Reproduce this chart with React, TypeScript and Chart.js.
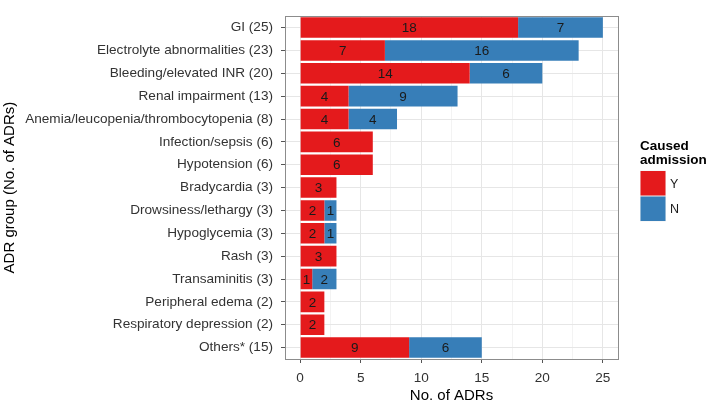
import React, { useEffect, useRef } from "react";
import { Chart, registerables } from "chart.js";

Chart.register(...registerables);

const categories = [
  "GI (25)",
  "Electrolyte abnormalities (23)",
  "Bleeding/elevated INR (20)",
  "Renal impairment (13)",
  "Anemia/leucopenia/thrombocytopenia (8)",
  "Infection/sepsis (6)",
  "Hypotension (6)",
  "Bradycardia (3)",
  "Drowsiness/lethargy (3)",
  "Hypoglycemia (3)",
  "Rash (3)",
  "Transaminitis (3)",
  "Peripheral edema (2)",
  "Respiratory depression (2)",
  "Others* (15)",
];
const causedY = [18, 7, 14, 4, 4, 6, 6, 3, 2, 2, 3, 1, 2, 2, 9];
const causedN = [7, 16, 6, 9, 4, 0, 0, 0, 1, 1, 0, 2, 0, 0, 6];
const xTicks = [0, 2.5, 5, 7.5, 10, 12.5, 15, 17.5, 20, 22.5, 25];
const legendTitle = ["Caused", "admission"];
const seriesNames = ["Y", "N"];
const colors = ["#E41A1C", "#377EB8"];

const FONT = "'Liberation Sans', Arial, sans-serif";

export default function App() {
  const ref = useRef<HTMLCanvasElement | null>(null);
  useEffect(() => {
    document.body.style.margin = "0";
    const ctx = ref.current!.getContext("2d")!;
    const overlay = {
      id: "overlay",
      afterDatasetsDraw(chart: any) {
        const c = chart.ctx;
        const area = chart.chartArea;
        // value labels
        c.save();
        c.font = `13.5px ${FONT}`;
        c.fillStyle = "#1a1a1a";
        c.textAlign = "center";
        c.textBaseline = "middle";
        chart.data.datasets.forEach((ds: any, di: number) => {
          const meta = chart.getDatasetMeta(di);
          meta.data.forEach((bar: any, i: number) => {
            const v = ds.data[i];
            if (!v) return;
            const cx = (bar.x + bar.base) / 2;
            c.fillText(String(v), cx, bar.y + 1);
          });
        });
        c.restore();
        // panel border
        c.save();
        c.strokeStyle = "#8c8c8c";
        c.lineWidth = 1;
        c.strokeRect(
          Math.round(area.left) + 0.5,
          Math.round(area.top) + 0.5,
          Math.round(area.right - area.left),
          Math.round(area.bottom - area.top)
        );
        c.restore();
        // legend
        c.save();
        const lx = 640;
        c.fillStyle = "#000";
        c.font = `bold 13.5px ${FONT}`;
        c.textAlign = "left";
        c.textBaseline = "middle";
        c.fillText(legendTitle[0], lx, 146);
        c.fillText(legendTitle[1], lx, 160);
        const boxH = 25.5;
        seriesNames.forEach((name, i) => {
          const y0 = 170.5 + i * boxH;
          c.fillStyle = "#f2f2f2";
          c.fillRect(lx, y0, 26, boxH);
          c.fillStyle = colors[i];
          c.fillRect(lx + 0.5, y0 + 0.5, 25, boxH - 1);
          c.fillStyle = "#1a1a1a";
          c.font = `12.5px ${FONT}`;
          c.fillText(name, lx + 30, y0 + boxH / 2 + 1);
        });
        c.restore();
      },
    };
    const chart = new Chart(ctx, {
      type: "bar",
      data: {
        labels: categories,
        datasets: [
          {
            label: seriesNames[0],
            data: causedY.map((v) => (v ? v : null)),
            backgroundColor: colors[0],
            barPercentage: 0.9,
            categoryPercentage: 1,
          },
          {
            label: seriesNames[1],
            data: causedN.map((v) => (v ? v : null)),
            backgroundColor: colors[1],
            barPercentage: 0.9,
            categoryPercentage: 1,
          },
        ],
      },
      options: {
        indexAxis: "y",
        animation: false,
        responsive: false,
        layout: { padding: { left: 0, right: 91, top: 3, bottom: 0 } },
        plugins: { legend: { display: false }, tooltip: { enabled: false } },
        scales: {
          x: {
            stacked: true,
            min: -1.25,
            max: 26.25,
            afterBuildTicks: (scale: any) => {
              scale.ticks = xTicks.map((v) => ({ value: v }));
            },
            afterFit: (scale: any) => {
              scale.height = 46;
            },
            grid: {
              color: (c: any) => (c.tick && c.tick.value % 5 === 0 ? "#e6e6e6" : "#f3f3f3"),
              tickColor: (c: any) => (c.tick && c.tick.value % 5 === 0 ? "#555" : "rgba(0,0,0,0)"),
              tickLength: 4,
              lineWidth: 1,
            },
            border: { display: false },
            ticks: {
              autoSkip: false,
              maxRotation: 0,
              padding: 7,
              color: "#333",
              font: { family: FONT, size: 13.6 },
              callback: (v: any) => (Number(v) % 5 === 0 ? String(v) : ""),
            },
            title: {
              display: true,
              text: "No. of ADRs",
              color: "#000",
              font: { family: FONT, size: 15 },
              padding: { top: 0, bottom: 0 },
            },
          },
          y: {
            stacked: true,
            afterFit: (scale: any) => {
              scale.width = 285;
            },
            grid: {
              offset: false,
              color: "#e6e6e6",
              tickColor: "#555",
              tickLength: 4,
            },
            border: { display: false },
            ticks: {
              autoSkip: false,
              padding: 8,
              color: "#333",
              font: { family: FONT, size: 13.6 },
            },
            title: {
              display: true,
              text: "ADR group (No. of ADRs)",
              color: "#000",
              font: { family: FONT, size: 15 },
              padding: 1,
            },
          },
        },
      },
      plugins: [overlay],
    });
    return () => chart.destroy();
  }, []);
  return (
    <div style={{ position: "absolute", left: 0, top: 0, width: 709, height: 405, background: "#fff" }}>
      <canvas ref={ref} width={709} height={405} style={{ width: 709, height: 405, display: "block" }} />
    </div>
  );
}
